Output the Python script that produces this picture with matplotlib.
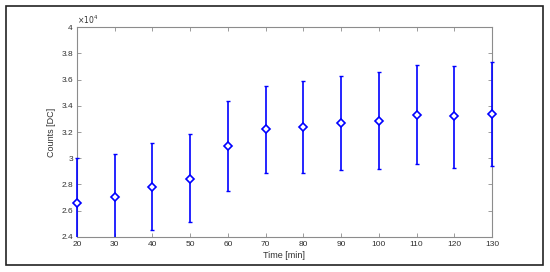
import numpy as np
import matplotlib
matplotlib.use("Agg")
import matplotlib.pyplot as plt
from matplotlib.ticker import FuncFormatter
from matplotlib.patches import Rectangle
from matplotlib.transforms import Bbox, TransformedBbox

# data (counts)
time_min = [20, 30, 40, 50, 60, 70, 80, 90, 100, 110, 120, 130]
counts = [26590, 27050, 27810, 28420, 30910, 32200, 32380, 32690, 32860, 33320, 33190, 33370]
upper = [30000, 30320, 31190, 31820, 34360, 35500, 35860, 36270, 36570, 37080, 37050, 37360]
lower = [23200, 23750, 24510, 25120, 27500, 28880, 28850, 29100, 29180, 29540, 29280, 29380]

err_lo = np.array(counts) - np.array(lower)
err_hi = np.array(upper) - np.array(counts)

plt.rcParams['font.family'] = ['Liberation Sans', 'DejaVu Sans']

fig = plt.figure(figsize=(5.5, 2.72), dpi=100)
ax = fig.add_axes([0.14, 0.1287, 0.7545, 0.772])

blue = '#0000ff'
eb = ax.errorbar(time_min, counts, yerr=[err_lo, err_hi], fmt='none', ecolor=blue,
                 elinewidth=1.2, capsize=1.6, capthick=1.0, zorder=4)
# clip only at top/bottom, so the bars on the x limits stay whole
box = TransformedBbox(Bbox([[-0.03, 0], [1.03, 1]]), ax.transAxes)
for art in eb.lines[1] + eb.lines[2]:
    art.set_clip_box(box)

# markers are not clipped at the axes edge (matlab style)
ax.plot(time_min, counts, 'D', markerfacecolor='white', markeredgecolor=blue,
        markersize=4.5, markeredgewidth=1.2, clip_on=False, zorder=5)

ax.set_xlim(20, 130)
ax.set_ylim(24000, 40000)
ax.set_xticks(time_min)
ax.set_yticks(np.arange(24000, 40001, 2000))
ax.yaxis.set_major_formatter(FuncFormatter(lambda v, p: '%g' % (v / 1e4)))

gray = '#8c8c8c'
for s in ax.spines.values():
    s.set_color(gray)
    s.set_linewidth(0.8)
ax.tick_params(direction='in', length=3, width=0.6, colors=gray, labelcolor='#303030',
               labelsize=6, top=True, right=True, pad=3)

ax.set_xlabel('Time [min]', fontsize=6.5, color='#303030', labelpad=2)
ax.set_ylabel('Counts [DC]', fontsize=6.5, color='#303030', labelpad=4)
ax.text(0.0, 1.005, r'$\times10^4$', transform=ax.transAxes, fontsize=5.5,
        color='#303030', va='bottom', ha='left')

# outer frame
fig.patches.append(Rectangle((6 / 550, 1 - 265 / 272), 537 / 550, 259 / 272,
                             transform=fig.transFigure, fill=False,
                             edgecolor='#222222', linewidth=1.2))

fig.savefig('out.png', dpi=100, facecolor='white')
